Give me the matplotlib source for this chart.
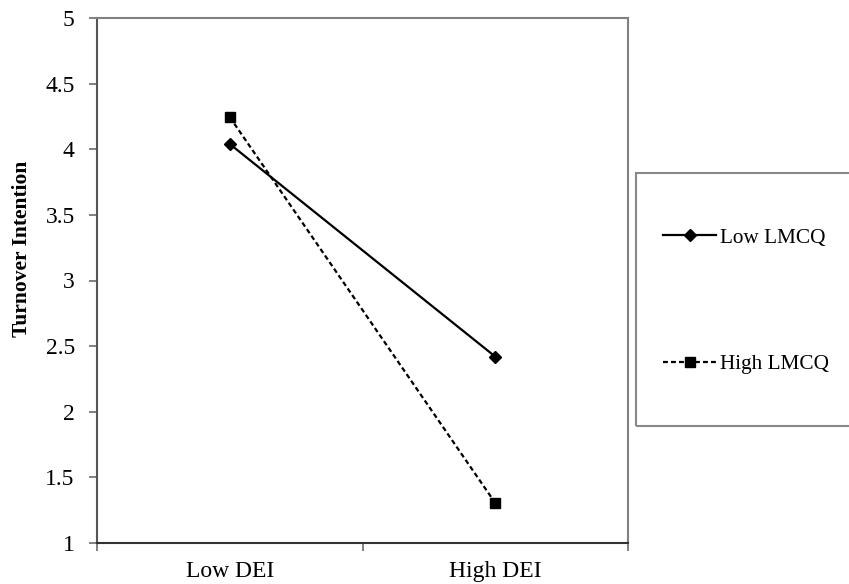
import matplotlib.pyplot as plt
from matplotlib.patches import Rectangle

categories = ['Low DEI', 'High DEI']
low_lmcq = [4.04, 2.42]
high_lmcq = [4.245, 1.305]
series_names = ['Low LMCQ', 'High LMCQ']
y_ticks = [1, 1.5, 2, 2.5, 3, 3.5, 4, 4.5, 5]

plt.rcParams['font.family'] = ['Liberation Serif', 'DejaVu Serif']

fig = plt.figure(figsize=(8.49, 5.84), dpi=100)
ax = fig.add_axes([97 / 849, 41 / 584, 531 / 849, 525 / 584])

xs = [i + 0.5 for i in range(len(categories))]
ax.plot(xs, low_lmcq, color='black', lw=1.6, marker='D', markersize=6,
        label=series_names[0])
ax.plot(xs, high_lmcq, color='black', lw=1.6, ls=(0, (2.2, 1.4)), marker='s',
        markersize=7, label=series_names[1])

ax.set_xlim(0, len(categories))
ax.set_ylim(1, 5)
ax.set_yticks(y_ticks)
ax.set_yticklabels([f'{v:g}' for v in y_ticks], fontsize=17)
ax.set_xticks(range(len(categories) + 1))
ax.set_xticklabels([])
ax.set_xticks(xs, minor=True)
ax.set_xticklabels(categories, minor=True, fontsize=17)
ax.tick_params(axis='x', which='minor', length=0, pad=13)
ax.tick_params(axis='both', which='major', length=6, width=1.3, color='#777777',
               direction='out')
ax.tick_params(axis='y', pad=10)
for s in ax.spines.values():
    s.set_color('#808080')
    s.set_linewidth(1.5)
ax.spines['bottom'].set_color('#333333')
ax.spines['left'].set_color('#555555')

ax.set_ylabel('Turnover Intention', fontsize=15.5, fontweight='bold')
ax.yaxis.set_label_coords(-0.123, 0.56)

fig.patches.append(Rectangle((636 / 849, 158 / 584), 0.3, 253 / 584,
                             transform=fig.transFigure, fill=False,
                             edgecolor='#888888', lw=1.5))
fig.legend(loc='center left', bbox_to_anchor=(644 / 849, 283 / 584),
           frameon=False, fontsize=15.3, handlelength=2.5, handletextpad=0.2,
           labelspacing=5.0)

fig.savefig('out.png', dpi=100)
